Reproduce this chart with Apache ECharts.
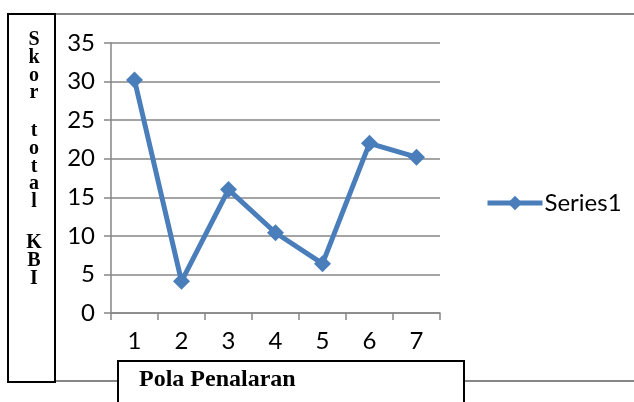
<!DOCTYPE html>
<html>
<head>
<meta charset="utf-8">
<script src="https://cdn.jsdelivr.net/npm/echarts@6/dist/echarts.min.js"></script>
<style>html,body{margin:0;padding:0;background:#fff}#c{width:634px;height:402px}</style>
</head>
<body>
<div id="c"></div>
<script>
var categories = ['1','2','3','4','5','6','7'];
var series1 = [30.2, 4.1, 16.0, 10.4, 6.4, 22.0, 20.2];
var yTicks = {min: 0, max: 35, interval: 5};
var seriesName = 'Series1';
var xTitle = 'Pola Penalaran';
var yTitleWords = ['Skor', 'total', 'KBI'];

var chart = echarts.init(document.getElementById('c'));
var gray = '#868686';
var blue = '#4a7ebb';
var serif = '"Liberation Serif", "DejaVu Serif", serif';
var sans = 'Lato, "Open Sans", sans-serif';
var wordTops = [31, 122, 234];
var graphic = [
  {type:'line', shape:{x1:55,y1:14,x2:634,y2:14}, style:{stroke:gray,lineWidth:2}, z:0},
  {type:'line', shape:{x1:55,y1:381,x2:634,y2:381}, style:{stroke:gray,lineWidth:2}, z:0},
  {type:'rect', shape:{x:8,y:14,width:47,height:368}, style:{fill:'#fff',stroke:'#000',lineWidth:2}, z:1},
  {type:'rect', shape:{x:118,y:361,width:346,height:60}, style:{fill:'#fff',stroke:'#000',lineWidth:2}, z:1},
  {type:'text', x:139, y:368, style:{text:xTitle, fontSize:24, fontWeight:'bold', fontFamily:serif, fill:'#000'}, z:2}
];
yTitleWords.forEach(function(w, i){
  graphic.push({type:'text', x:34, y:wordTops[i], style:{text:w.split('').join('\n'), fontSize:20, fontWeight:'bold', fontFamily:serif, lineHeight:17.8, align:'center', verticalAlign:'top', fill:'#000'}, z:2});
});

chart.setOption({
  animation:false,
  grid:{left:111, right:194, top:43, bottom:89, containLabel:false},
  legend:{
    data:[seriesName], left:480, top:186, orient:'vertical',
    itemWidth:55, itemHeight:18, itemGap:4,
    lineStyle:{width:5, color:blue},
    textStyle:{color:'#000', fontSize:24, fontFamily:sans, padding:[0,0,0,-3]}
  },
  xAxis:{
    type:'category', data:categories, boundaryGap:true,
    axisLine:{lineStyle:{color:gray, width:1.5}},
    axisTick:{show:true, length:7, lineStyle:{color:gray, width:1.5}},
    axisLabel:{color:'#000', fontSize:24, fontFamily:sans, margin:16}
  },
  yAxis:{
    type:'value', min:yTicks.min, max:yTicks.max, interval:yTicks.interval,
    axisLine:{show:true, lineStyle:{color:gray, width:1.5}},
    axisTick:{show:true, length:7, lineStyle:{color:gray, width:1.5}},
    splitLine:{lineStyle:{color:gray, width:1.5}},
    axisLabel:{color:'#000', fontSize:24, fontFamily:sans, margin:16}
  },
  series:[{
    name:seriesName, type:'line', data:series1,
    symbol:'diamond', symbolSize:17,
    lineStyle:{color:blue, width:5},
    itemStyle:{color:blue}
  }],
  graphic:graphic
});
</script>
</body>
</html>
